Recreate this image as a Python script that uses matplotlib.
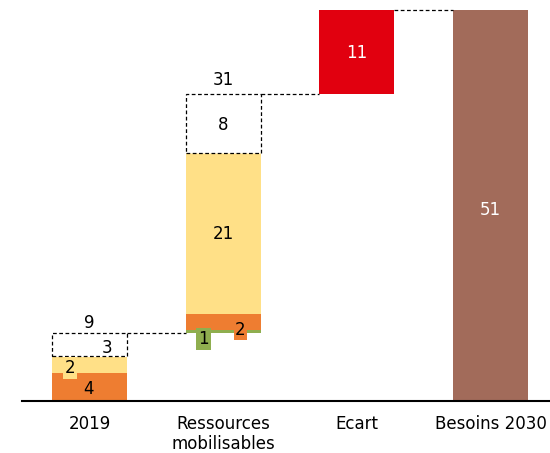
import matplotlib.pyplot as plt
from matplotlib.patches import Rectangle

categories = ["2019", "Ressources\nmobilisables", "Ecart", "Besoins 2030"]

# 2019 : orange, jaune, pointillés
base_2019 = [3.6, 2.1, 3.1]
labels_2019 = ["4", "2", "3"]
total_2019 = 9

# ressources mobilisables : vert, orange, jaune, pointillés
ress = [0.5, 2.0, 21.0, 7.8]
labels_ress = ["1", "2", "21", "8"]
total_ress = 31

ecart = 11
besoins = 51

orange = "#ee7d31"
yellow = "#ffe087"
green = "#8fae4f"
red = "#e1000f"
brown = "#a26b5a"

plt.rcParams['font.family'] = ['DejaVu Sans']

fig = plt.figure(figsize=(5.5, 4.53), dpi=100)
ax = fig.add_axes([0.04, 0.115, 0.96, 0.885])
w = 0.56
fs = 12


def dashed_box(ax, x, y0, h):
    ax.add_patch(Rectangle((x - w / 2, y0), w, h, facecolor="white",
                           edgecolor="black", linestyle=(0, (3, 2)), lw=0.9))


# 2019
x0 = 0
ax.bar(x0, base_2019[0], w, color=orange)
ax.bar(x0, base_2019[1], w, bottom=base_2019[0], color=yellow)
top_2019 = base_2019[0] + base_2019[1] + base_2019[2]
dashed_box(ax, x0, base_2019[0] + base_2019[1] + 0.1, base_2019[2] - 0.1)
ax.text(x0 - 0.01, base_2019[0] / 2 - 0.2, labels_2019[0], ha="center",
        va="center", fontsize=fs)
ax.text(x0 - 0.146, 4.3, labels_2019[1], ha="center", va="center", fontsize=fs,
        bbox=dict(boxstyle="square,pad=0.1", fc=yellow, ec="none"))
ax.text(x0 + 0.13, base_2019[0] + base_2019[1] + base_2019[2] / 2 - 0.4,
        labels_2019[2], ha="center", va="center", fontsize=fs)
ax.text(x0, top_2019 + 1.3, str(total_2019), ha="center", va="center",
        fontsize=fs)

# Ressources
x1 = 1
b = top_2019
ax.bar(x1, ress[0], w, bottom=b, color=green)
ax.bar(x1, ress[1], w, bottom=b + ress[0], color=orange)
ax.bar(x1, ress[2], w, bottom=b + ress[0] + ress[1], color=yellow)
dashed_box(ax, x1, b + ress[0] + ress[1] + ress[2], ress[3])
top_ress = b + sum(ress)
ax.text(x1 - 0.146, b - 0.7, labels_ress[0], ha="center", va="center",
        fontsize=fs, bbox=dict(boxstyle="square,pad=0.12", fc=green, ec="none"))
ax.text(x1 + 0.13, b + 0.5, labels_ress[1], ha="center", va="center",
        fontsize=fs, bbox=dict(boxstyle="square,pad=0.08", fc=orange, ec="none"))
ax.text(x1, b + ress[0] + ress[1] + ress[2] / 2, labels_ress[2], ha="center",
        va="center", fontsize=fs)
ax.text(x1, top_ress - ress[3] / 2 - 0.2, labels_ress[3], ha="center",
        va="center", fontsize=fs)
ax.text(x1, top_ress + 1.7, str(total_ress), ha="center", va="center",
        fontsize=fs)

# Ecart
x2 = 2
ax.bar(x2, besoins - top_ress, w, bottom=top_ress, color=red)
ax.text(x2, (besoins + top_ress) / 2 - 0.2, str(ecart), ha="center",
        va="center", fontsize=fs, color="white")

# Besoins
x3 = 3
ax.bar(x3, besoins, w, color=brown)
ax.text(x3, besoins / 2 - 0.6, str(besoins), ha="center", va="center",
        fontsize=fs, color="white")

# connecteurs
dash = dict(color="black", linestyle=(0, (3, 2)), lw=0.9)
ax.plot([x0 + w / 2, x1 - w / 2], [top_2019, top_2019], **dash)
ax.plot([x1 + w / 2, x2 - w / 2], [top_ress, top_ress], **dash)
ax.plot([x2 + w / 2, x3 - w / 2], [besoins, besoins], **dash)

ax.set_xlim(-0.505, 3.445)
ax.set_ylim(0, 52.3)
ax.set_xticks(range(4))
ax.set_xticklabels(categories, fontsize=fs, linespacing=1.15)
ax.tick_params(axis="x", length=0, pad=10)
ax.set_yticks([])
for s in ["top", "right", "left"]:
    ax.spines[s].set_visible(False)
ax.spines["bottom"].set_linewidth(1.5)

fig.savefig("out.png", dpi=100)
